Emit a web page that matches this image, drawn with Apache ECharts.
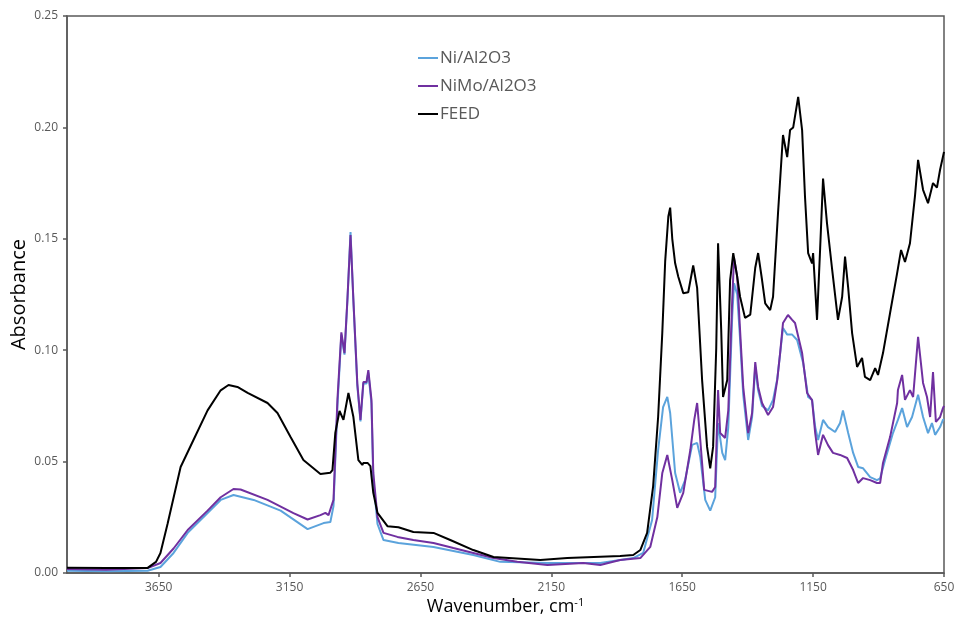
<!DOCTYPE html>
<html>
<head>
<meta charset="utf-8">
<script src="https://cdn.jsdelivr.net/npm/echarts@6.0.0/dist/echarts.min.js"></script>
<style>
  html, body { margin: 0; padding: 0; background: #fff; }
  #chart { width: 956px; height: 624px; }
</style>
</head>
<body>
<div id="chart"></div>
<script>
const xTicks = [650, 1150, 1650, 2150, 2650, 3150, 3650]

// FEED
const feedWn = [4000, 3850, 3692, 3660, 3643, 3616, 3566, 3517, 3463, 3413, 3383, 3349, 3310, 3234, 3196, 3146, 3097, 3032, 2994, 2986, 2975, 2959, 2944, 2925, 2906, 2887, 2872, 2868, 2852, 2841, 2830, 2814, 2776, 2734, 2677, 2600, 2536, 2448, 2371, 2192, 2089, 1887, 1837, 1810, 1784, 1761, 1742, 1726, 1715, 1703, 1696, 1688, 1677, 1665, 1646, 1627, 1608, 1593, 1574, 1555, 1543, 1532, 1520, 1513, 1501, 1494, 1478, 1467, 1455, 1440, 1429, 1410, 1390, 1371, 1360, 1345, 1333, 1314, 1303, 1284, 1265, 1249, 1238, 1226, 1207, 1192, 1181, 1169, 1154, 1150, 1135, 1123, 1112, 1097, 1078, 1055, 1039, 1028, 1016, 1001, 982, 963, 952, 932, 913, 902, 883, 856, 829, 814, 799, 780, 761, 749, 730, 711, 692, 677, 665, 650]
const feedAbs = [0.0024, 0.0022, 0.0023, 0.005, 0.009, 0.022, 0.0476, 0.0597, 0.073, 0.082, 0.0844, 0.0835, 0.0808, 0.0763, 0.0718, 0.061, 0.0507, 0.0444, 0.045, 0.0462, 0.063, 0.0727, 0.0687, 0.0808, 0.070, 0.0507, 0.0485, 0.0494, 0.0494, 0.048, 0.036, 0.027, 0.021, 0.0205, 0.0184, 0.018, 0.0148, 0.0103, 0.0072, 0.0058, 0.0067, 0.0076, 0.0081, 0.0103, 0.018, 0.039, 0.070, 0.108, 0.140, 0.160, 0.164, 0.150, 0.139, 0.133, 0.1256, 0.126, 0.138, 0.128, 0.0866, 0.0566, 0.047, 0.0566, 0.101, 0.148, 0.109, 0.079, 0.0866, 0.1315, 0.1436, 0.133, 0.124, 0.1145, 0.116, 0.137, 0.1436, 0.1315, 0.121, 0.118, 0.124, 0.1616, 0.1966, 0.1867, 0.1988, 0.200, 0.2137, 0.1988, 0.169, 0.1436, 0.139, 0.1436, 0.1136, 0.146, 0.177, 0.157, 0.137, 0.1136, 0.124, 0.142, 0.128, 0.1077, 0.0925, 0.0965, 0.088, 0.0866, 0.092, 0.0889, 0.0987, 0.1167, 0.1346, 0.145, 0.1396, 0.148, 0.169, 0.1854, 0.172, 0.166, 0.175, 0.173, 0.181, 0.189]

// NiMo/Al2O3
const nimoWn = [4000, 3850, 3692, 3643, 3593, 3539, 3463, 3413, 3364, 3337, 3234, 3135, 3081, 3032, 3013, 3001, 2982, 2967, 2952, 2940, 2929, 2917, 2906, 2891, 2879, 2868, 2856, 2849, 2837, 2830, 2814, 2791, 2738, 2677, 2600, 2524, 2448, 2371, 2280, 2165, 2028, 1963, 1887, 1810, 1772, 1745, 1726, 1707, 1688, 1669, 1646, 1619, 1604, 1593, 1581, 1566, 1536, 1524, 1513, 1505, 1486, 1474, 1459, 1452, 1440, 1429, 1417, 1398, 1383, 1371, 1360, 1345, 1322, 1303, 1287, 1276, 1265, 1246, 1230, 1219, 1192, 1173, 1154, 1142, 1131, 1112, 1093, 1074, 1047, 1020, 997, 978, 959, 932, 906, 894, 883, 856, 829, 826, 810, 799, 780, 768, 749, 730, 715, 703, 692, 681, 665, 654, 650]
const nimoAbs = [0.0018, 0.0015, 0.0022, 0.0045, 0.011, 0.0193, 0.028, 0.034, 0.0377, 0.0375, 0.0328, 0.0269, 0.024, 0.026, 0.027, 0.026, 0.0328, 0.0777, 0.108, 0.0987, 0.1225, 0.1517, 0.1225, 0.085, 0.0687, 0.0857, 0.0857, 0.0911, 0.0777, 0.0449, 0.0251, 0.018, 0.0162, 0.0148, 0.0135, 0.0112, 0.009, 0.0067, 0.005, 0.0036, 0.0045, 0.0036, 0.0058, 0.0067, 0.0117, 0.0251, 0.0449, 0.053, 0.0417, 0.0292, 0.036, 0.0552, 0.0687, 0.0763, 0.0597, 0.0373, 0.0364, 0.0386, 0.0821, 0.0628, 0.0606, 0.073, 0.1225, 0.1414, 0.133, 0.109, 0.0835, 0.0628, 0.0718, 0.0947, 0.0835, 0.0763, 0.0709, 0.0745, 0.0866, 0.0987, 0.1122, 0.1158, 0.1136, 0.1122, 0.0987, 0.0808, 0.0776, 0.0628, 0.053, 0.062, 0.0574, 0.0539, 0.053, 0.0516, 0.0462, 0.0404, 0.0426, 0.0417, 0.0404, 0.0404, 0.0494, 0.061, 0.0763, 0.0821, 0.0889, 0.0777, 0.0821, 0.079, 0.106, 0.0853, 0.079, 0.070, 0.0902, 0.0678, 0.070, 0.074, 0.075]

// Ni/Al2O3
const niWn = [4000, 3850, 3692, 3643, 3593, 3539, 3463, 3413, 3364, 3287, 3184, 3081, 3020, 2994, 2982, 2967, 2952, 2940, 2929, 2917, 2906, 2891, 2879, 2868, 2856, 2849, 2837, 2830, 2814, 2791, 2734, 2600, 2448, 2345, 2165, 1963, 1887, 1837, 1799, 1765, 1742, 1723, 1707, 1696, 1677, 1658, 1639, 1612, 1593, 1581, 1562, 1543, 1524, 1513, 1497, 1486, 1474, 1459, 1452, 1440, 1429, 1417, 1398, 1383, 1371, 1360, 1345, 1322, 1303, 1287, 1265, 1249, 1230, 1211, 1188, 1169, 1154, 1142, 1131, 1112, 1093, 1066, 1047, 1036, 1016, 997, 978, 959, 932, 906, 894, 875, 845, 826, 810, 791, 772, 749, 730, 711, 696, 684, 665, 654, 650]
const niAbs = [0.001, 0.0008, 0.001, 0.0027, 0.009, 0.018, 0.0269, 0.0328, 0.035, 0.0328, 0.028, 0.0197, 0.0224, 0.0229, 0.030, 0.075, 0.107, 0.098, 0.122, 0.153, 0.122, 0.084, 0.068, 0.085, 0.085, 0.090, 0.076, 0.042, 0.022, 0.0148, 0.0135, 0.0117, 0.0081, 0.005, 0.0045, 0.0045, 0.0058, 0.0067, 0.009, 0.0238, 0.0552, 0.0745, 0.079, 0.0718, 0.0449, 0.036, 0.0417, 0.0575, 0.0584, 0.052, 0.0328, 0.028, 0.034, 0.0673, 0.0539, 0.0507, 0.0655, 0.115, 0.130, 0.125, 0.105, 0.080, 0.0597, 0.070, 0.0925, 0.082, 0.075, 0.073, 0.0777, 0.087, 0.110, 0.107, 0.107, 0.1046, 0.0943, 0.079, 0.0777, 0.0655, 0.0597, 0.0687, 0.0655, 0.0633, 0.0673, 0.073, 0.0628, 0.0539, 0.0476, 0.047, 0.043, 0.0417, 0.0425, 0.0507, 0.0628, 0.0687, 0.074, 0.0655, 0.070, 0.080, 0.070, 0.0628, 0.0673, 0.062, 0.0655, 0.0687, 0.069]

const pairs = (wn, ab) => wn.map((w, i) => [w, ab[i]])

const axisColor = '#595959'
const font = "'Open Sans', sans-serif"

const chart = echarts.init(document.getElementById('chart'))

const lineSeries = (name, color, data) => ({
  name,
  type: 'line',
  showSymbol: false,
  symbol: 'none',
  data,
  lineStyle: { color, width: 2 },
  itemStyle: { color },
})

chart.setOption({
  animation: false,
  grid: {
    left: 67,
    right: 12,
    top: 16,
    bottom: 51,
    outerBoundsMode: 'none',
    show: true,
    borderColor: axisColor,
    borderWidth: 1.5,
  },
  legend: {
    orient: 'vertical',
    left: 413,
    top: 44,
    itemWidth: 20,
    itemHeight: 2,
    itemGap: 10,
    icon: 'rect',
    textStyle: { color: axisColor, fontSize: 17, fontFamily: font, lineHeight: 18, padding: [0, 0, 0, -3] },
    data: ['Ni/Al2O3', 'NiMo/Al2O3', 'FEED'],
  },
  xAxis: {
    type: 'value',
    min: 650,
    max: 4000,
    inverse: true,
    name: '{a|Wavenumber, cm}{s|-1}',
    nameLocation: 'middle',
    nameGap: 24,
    nameMoveOverlap: false,
    nameTextStyle: {
      rich: {
        a: { fontSize: 18, color: '#000', fontFamily: font },
        s: { fontSize: 11, color: '#000', fontFamily: font, padding: [0, 0, 9, 0] },
      },
    },
    axisLine: { lineStyle: { color: axisColor, width: 1.5 } },
    axisTick: { show: true, length: 4, customValues: xTicks, lineStyle: { color: axisColor, width: 1.5 } },
    axisLabel: { customValues: xTicks, color: axisColor, fontSize: 12, fontFamily: font, margin: 9, formatter: (v) => String(v) },
    splitLine: { show: false },
  },
  yAxis: {
    type: 'value',
    min: 0,
    max: 0.25,
    interval: 0.05,
    name: 'Absorbance',
    nameLocation: 'middle',
    nameGap: 38,
    nameMoveOverlap: false,
    nameTextStyle: { fontSize: 20, color: '#000', fontFamily: font },
    axisLine: { show: true, lineStyle: { color: axisColor, width: 1.5 } },
    axisTick: { show: true, length: 4, lineStyle: { color: axisColor, width: 1.5 } },
    axisLabel: { color: axisColor, fontSize: 12, fontFamily: font, margin: 9, formatter: (v) => v.toFixed(2) },
    splitLine: { show: false },
  },
  series: [
    lineSeries('Ni/Al2O3', '#5BA3DC', pairs(niWn, niAbs)),
    lineSeries('NiMo/Al2O3', '#7030A0', pairs(nimoWn, nimoAbs)),
    lineSeries('FEED', '#000000', pairs(feedWn, feedAbs)),
  ],
})
</script>
</body>
</html>
